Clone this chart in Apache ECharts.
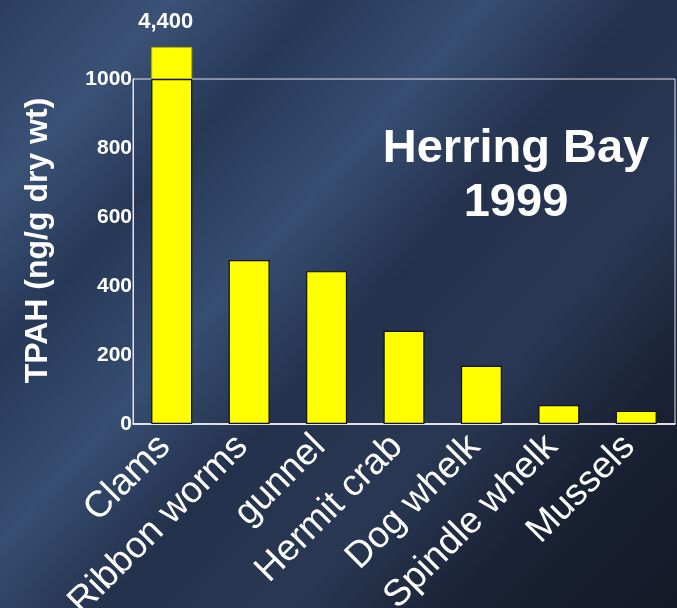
<!DOCTYPE html>
<html>
<head>
<meta charset="utf-8">
<script src="https://cdn.jsdelivr.net/npm/echarts@6/dist/echarts.min.js"></script>
<style>
html,body{margin:0;padding:0;background:#1f2a42;}
#chart{width:677px;height:608px;}
</style>
</head>
<body>
<div id="chart"></div>
<script>
// Data
var categories = ['Clams', 'Ribbon worms', 'gunnel', 'Hermit crab', 'Dog whelk', 'Spindle whelk', 'Mussels'];
var tpahValues = [4400, 475, 443, 270, 169, 55, 38];
var yTicks = [0, 200, 400, 600, 800, 1000];
var axisMax = 1000;      // axis is broken at 1000
var brokenBarTop = 1093; // drawn height of the broken (off-scale) bar
var titleLines = ['Herring Bay', '1999'];
var yAxisTitle = 'TPAH (ng/g dry wt)';

var FONT = '"Liberation Sans", Arial, Helvetica, sans-serif';

var lowerPart = tpahValues.map(function (v) { return Math.min(v, axisMax); });
var upperPart = tpahValues.map(function (v) { return v > axisMax ? brokenBarTop - axisMax : null; });

var chart = echarts.init(document.getElementById('chart'));
chart.setOption({
  animation: false,
  backgroundColor: {
    type: 'linear', x: 0, y: 0, x2: 1, y2: 1,
    colorStops: [
      { offset: 0.0, color: '#2b3e60' },
      { offset: 0.14, color: '#3a5276' },
      { offset: 0.26, color: '#273857' },
      { offset: 0.4, color: '#364e72' },
      { offset: 0.53, color: '#24314c' },
      { offset: 0.68, color: '#293854' },
      { offset: 0.82, color: '#1a2235' },
      { offset: 1.0, color: '#141927' }
    ]
  },
  title: {
    text: titleLines.join('\n'),
    left: 511,
    top: 117,
    textAlign: 'center',
    textStyle: {
      color: '#ffffff',
      fontFamily: FONT,
      fontWeight: 'bold',
      fontSize: 47,
      lineHeight: 54
    }
  },
  grid: {
    left: 133, right: 2, top: 79, bottom: 184,
    show: true,
    borderColor: '#e4e0f2',
    borderWidth: 1,
    backgroundColor: 'transparent',
    outerBoundsMode: 'none',
    containLabel: false
  },
  xAxis: {
    type: 'category',
    data: categories,
    axisLine: { show: true, lineStyle: { color: '#ffffff', width: 1.5 } },
    axisTick: { show: false },
    axisLabel: {
      interval: 0,
      rotate: 45,
      margin: 10,
      padding: [0, 10, 0, 0],
      color: '#ffffff',
      fontFamily: FONT,
      fontSize: 37
    }
  },
  yAxis: {
    type: 'value',
    min: yTicks[0],
    max: yTicks[yTicks.length - 1],
    interval: yTicks[1] - yTicks[0],
    name: yAxisTitle,
    nameLocation: 'middle',
    nameGap: 79,
    nameTextStyle: {
      color: '#ffffff',
      fontFamily: FONT,
      fontWeight: 'bold',
      fontSize: 32,
      padding: [0, 0, 0, 22]
    },
    axisLine: { show: true, lineStyle: { color: '#e4e0f2', width: 1 } },
    axisTick: { show: false },
    splitLine: { show: false },
    axisLabel: {
      margin: 1,
      color: '#ffffff',
      fontFamily: FONT,
      fontWeight: 'bold',
      fontSize: 21,
      formatter: function (v) { return String(v); }
    }
  },
  series: [
    {
      type: 'bar',
      stack: 'tpah',
      data: lowerPart,
      barWidth: 41,
      z: 3,
      itemStyle: { color: '#ffff00', borderColor: '#111111', borderWidth: 1.2 }
    },
    {
      type: 'bar',
      stack: 'tpah',
      data: upperPart,
      barWidth: 41,
      clip: false,
      z: 2,
      itemStyle: { color: '#ffff00', borderColor: '#b8b400', borderWidth: 1 },
      label: {
        show: true,
        position: 'top',
        distance: 14,
        offset: [-6, 0],
        color: '#ffffff',
        fontFamily: FONT,
        fontWeight: 'bold',
        fontSize: 22,
        formatter: function (p) {
          return tpahValues[p.dataIndex].toLocaleString('en-US');
        }
      }
    }
  ]
});
</script>
</body>
</html>
